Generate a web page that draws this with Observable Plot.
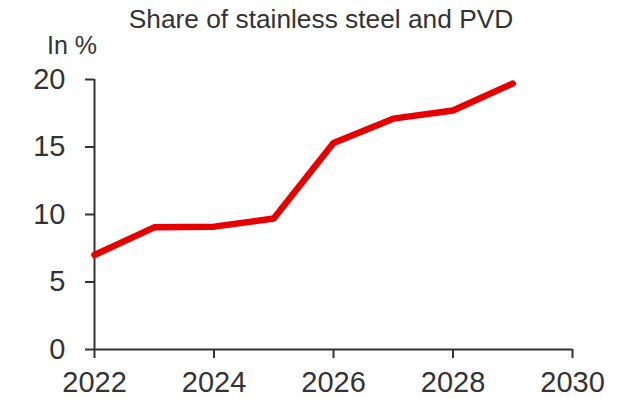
<!DOCTYPE html>
<html>
<head>
<meta charset="utf-8">
<script src="https://cdn.jsdelivr.net/npm/d3@7"></script>
<script src="https://cdn.jsdelivr.net/npm/@observablehq/plot@0.6"></script>
<style>
  html, body { margin: 0; padding: 0; background: #fff; }
  #chart { width: 629px; height: 399px; overflow: hidden; }
</style>
</head>
<body>
<div id="chart"></div>
<script>
const years = [2022, 2023, 2024, 2025, 2026, 2027, 2028, 2029];
const shares = [7.0, 9.05, 9.1, 9.7, 15.3, 17.1, 17.7, 19.7];
const xTicks = [2022, 2024, 2026, 2028, 2030];
const yTicks = [0, 5, 10, 15, 20];
const titleText = "Share of stainless steel and PVD";
const unitText = "In %";

const data = years.map((year, i) => ({year, value: shares[i]}));
const axisColor = "#333333";

const plot = Plot.plot({
  width: 629,
  height: 399,
  marginLeft: 94,
  marginRight: 57,
  marginTop: 79,
  marginBottom: 50,
  style: {fontFamily: "'Liberation Sans', Arial, sans-serif", fontSize: "29px", color: axisColor, background: "#fff", overflow: "visible"},
  x: {domain: [2022, 2030], label: null},
  y: {domain: [0, 20], label: null},
  marks: [
    Plot.axisY({ticks: yTicks, tickSize: 9, tickPadding: 20, fontSize: 29, strokeWidth: 2, stroke: axisColor, label: null}),
    Plot.axisX({ticks: xTicks, tickSize: 9, tickPadding: 13, fontSize: 29, strokeWidth: 2, stroke: axisColor, tickFormat: d => String(d), label: null}),
    Plot.ruleY([0], {stroke: axisColor, strokeWidth: 2}),
    Plot.ruleX([2022], {stroke: axisColor, strokeWidth: 2}),
    Plot.line(data, {x: "year", y: "value", stroke: "#e60000", strokeWidth: 6.5, strokeLinecap: "round", strokeLinejoin: "miter"})
  ]
});

document.getElementById("chart").appendChild(plot);

const svg = d3.select(plot);
svg.append("text")
  .attr("x", 321).attr("y", 28)
  .attr("text-anchor", "middle")
  .attr("font-size", 26.3)
  .attr("fill", axisColor)
  .text(titleText);
svg.append("text")
  .attr("x", 97).attr("y", 54)
  .attr("text-anchor", "end")
  .attr("font-size", 25)
  .attr("fill", axisColor)
  .text(unitText);
</script>
</body>
</html>
